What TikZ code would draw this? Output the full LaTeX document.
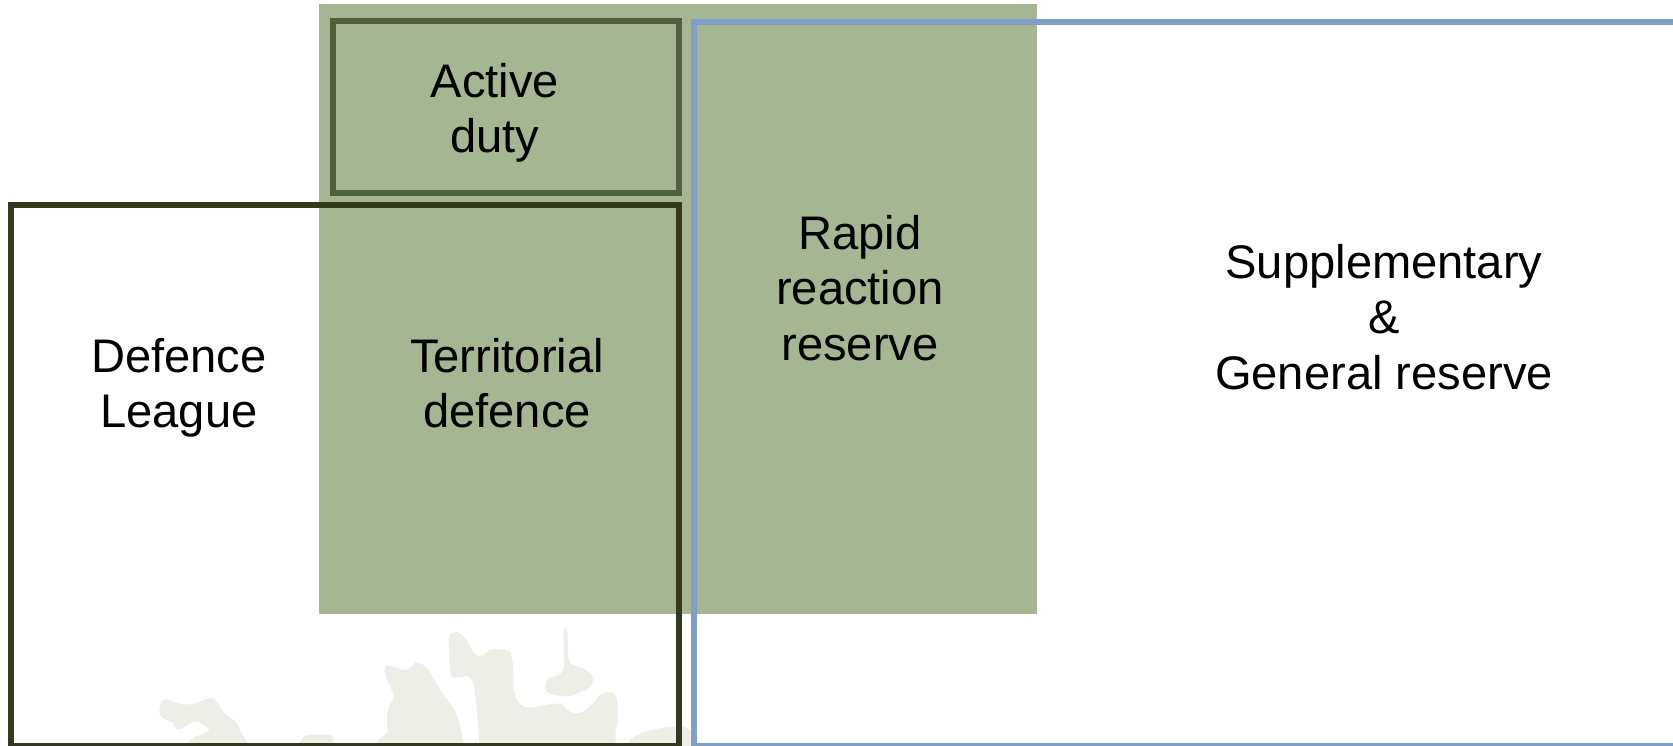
\documentclass[tikz,border=0pt]{standalone}
\usepackage{fontspec}
\setmainfont{Liberation Sans}
\definecolor{armygreen}{HTML}{A6B592}
\definecolor{activeline}{HTML}{525F3F}
\definecolor{leagueline}{HTML}{333A1E}
\definecolor{reserveline}{HTML}{7F9FC6}
\definecolor{mapgrey}{HTML}{ECEEE7}
\begin{document}
\begin{tikzpicture}[x=0.01cm, y=-0.01cm, line join=miter,
	font=\fontsize{13.4}{15.7}\selectfont,
	frame/.style={line width=1.7pt},
	boxtext/.style={align=center, inner sep=0pt},
	land/.style={fill=mapgrey, rounded corners=1.5pt}]
	\useasboundingbox (0,0) rectangle (1673,745);
	\clip (0,0) rectangle (1673,745);
	\path
	(319,4) coordinate (G1)
	(1037,614) coordinate (G2)
	(333,21) coordinate (A1)
	(679,193) coordinate (A2)
	(11,205) coordinate (L1)
	(679,746) coordinate (L2)
	(694,22) coordinate (R1)
	(1710,746) coordinate (R2);
	
	\fill[armygreen] (G1) rectangle (G2);
	
	% map in the background
	\path[land] (162.7,697.3) -- (176.7,703.3) -- (191.7,705) -- (210,697.3) -- (216.7,700)
	-- (223.3,713.3) -- (236.7,721.7) -- (240,730) -- (251.7,750) -- (183.3,750)
	-- (191.7,738.3) -- (211.7,730) -- (195,720) -- (176.7,731.7) -- (171.7,720)
	-- (161.7,720) -- (158.3,710) -- cycle;
	\path[land] (296.7,750) -- (303.3,735) -- (330,734.3) -- (335,737.3) -- (330,750) -- cycle;
	\path[land] (383.3,666.7) -- (388.3,665) -- (408.3,671.7) -- (413.3,663.3) -- (418.3,661.7)
	-- (428.3,668.3) -- (433.3,678.3) -- (440,690) -- (450,703.3) -- (456,712) -- (460,725)
	-- (465,750) -- (376.7,750) -- (376.7,740) -- (388.3,733.3) -- (386.7,720)
	-- (388.3,706.7) -- (395,696.7) -- (388.3,683.3) -- (385,675) -- cycle;
	\path[land] (448.3,635) -- (453.3,631.7) -- (460,632.3) -- (466.7,640) -- (473.3,653.3)
	-- (480,658.3) -- (486.7,651.7) -- (491.7,648.3) -- (508.3,650) -- (511.7,653.3)
	-- (513.3,668.3) -- (513.3,688.3) -- (516.7,701.7) -- (526.7,708.3) -- (560,702.7)
	-- (565,706.7) -- (570,713.3) -- (581.7,713.3) -- (595,701.7) -- (600,693.3)
	-- (611.7,691.7) -- (616.7,695) -- (618.3,720) -- (615,733.3) -- (616.7,750)
	-- (480,750) -- (476.7,708.3) -- (475,691.7) -- (473.3,681.7) -- (470,675)
	-- (455,678.3) -- (450,675) -- cycle;
	\path[land] (563.3,628.3) -- (567.7,628.3) -- (568.3,663.3) -- (583.3,668.3) -- (595,676.7)
	-- (591.7,686.7) -- (570,697) -- (553,695) -- (543,690) -- (548,676.7) -- (558,676.7)
	-- (564,670) -- cycle;
	\path[land] (626.7,750) -- (630,738) -- (650,730) -- (670,726.7) -- (686.7,726.7)
	-- (694,735) -- (700,750) -- cycle;
	
	\draw[frame, activeline] (A1) rectangle (A2);
	\draw[frame, leagueline] (L1) rectangle (L2);
	\draw[frame, reserveline] (R1) rectangle (R2);
	
	\foreach \x/\y/\n/\t in {495/113/active/{Active\\duty}, 179/388/league/{Defence\\League},
		507/383/territorial/{Territorial\\defence}, 860/288/rapid/{Rapid\\reaction\\reserve},
		1384/317/general/{Supplementary\\\&\\General reserve}}
	\node[boxtext] (\n) at (\x,\y) {\t};
\end{tikzpicture}
\end{document}
